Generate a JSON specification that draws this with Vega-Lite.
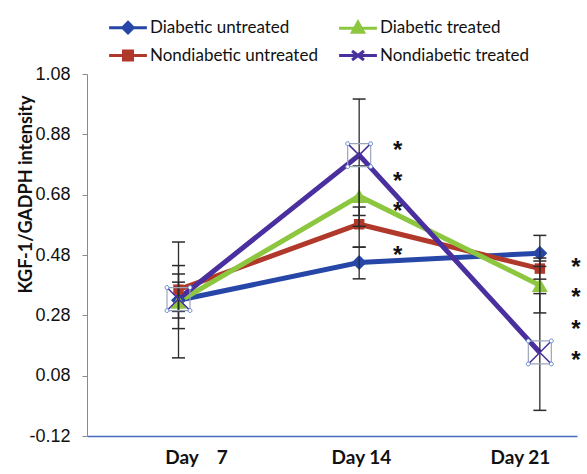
{
  "$schema": "https://vega.github.io/schema/vega-lite/v6.json",
  "width": 490,
  "height": 362,
  "autosize": "none",
  "padding": {"left": 87, "top": 74, "right": 10, "bottom": 38},
  "background": "white",
  "config": {"view": {"stroke": null}, "font": "Lato"},
  "datasets": {
    "series": [
      {"series": "Diabetic untreated", "day": 7, "value": 0.33, "lo": 0.271, "hi": 0.39},
      {"series": "Diabetic untreated", "day": 14, "value": 0.455, "lo": 0.401, "hi": 0.506},
      {"series": "Diabetic untreated", "day": 21, "value": 0.486, "lo": 0.442, "hi": 0.545},
      {"series": "Nondiabetic untreated", "day": 7, "value": 0.365, "lo": 0.293, "hi": 0.417},
      {"series": "Nondiabetic untreated", "day": 14, "value": 0.582, "lo": 0.506, "hi": 0.639},
      {"series": "Nondiabetic untreated", "day": 21, "value": 0.435, "lo": 0.4, "hi": 0.46},
      {"series": "Diabetic treated", "day": 7, "value": 0.325, "lo": 0.236, "hi": 0.445},
      {"series": "Diabetic treated", "day": 14, "value": 0.675, "lo": 0.575, "hi": 0.775},
      {"series": "Diabetic treated", "day": 21, "value": 0.38, "lo": 0.288, "hi": 0.47},
      {"series": "Nondiabetic treated", "day": 7, "value": 0.334, "lo": 0.139, "hi": 0.523},
      {"series": "Nondiabetic treated", "day": 14, "value": 0.811, "lo": 0.611, "hi": 0.997},
      {"series": "Nondiabetic treated", "day": 21, "value": 0.157, "lo": -0.035, "hi": 0.352}
    ],
    "stars": [
      {"day": 15.49, "value": 0.845},
      {"day": 15.49, "value": 0.742},
      {"day": 15.49, "value": 0.641},
      {"day": 15.49, "value": 0.497},
      {"day": 22.4, "value": 0.456},
      {"day": 22.4, "value": 0.356},
      {"day": 22.4, "value": 0.252},
      {"day": 22.4, "value": 0.15}
    ]
  },
  "encoding": {
    "x": {
      "field": "day",
      "type": "quantitative",
      "scale": {"domain": [3.455, 22.44], "nice": false, "zero": false},
      "axis": {
        "title": null,
        "values": [7.68, 14.07, 20.23],
        "labelExpr": "datum.value < 10 ? 'Day\u00a0\u00a0\u00a0\u00a07' : (datum.value < 17 ? 'Day 14' : 'Day 21')",
        "ticks": false,
        "tickSize": 0,
        "grid": false,
        "domainColor": "#4a6cc0",
        "domainWidth": 1.5,
        "labelFont": "Lato",
        "labelFontSize": 19,
        "labelFontWeight": "bold",
        "labelColor": "#111111",
        "labelPadding": 12,
        "labelFlush": false
      }
    },
    "y": {
      "field": "value",
      "type": "quantitative",
      "scale": {"domain": [-0.12, 1.08], "nice": false, "zero": false},
      "axis": {
        "title": "KGF-1/GADPH intensity",
        "values": [-0.12, 0.08, 0.28, 0.48, 0.68, 0.88, 1.08],
        "labelExpr": "replace(format(datum.value, '.2f'), '\u2212', '-')",
        "grid": false,
        "domainColor": "#8a8a8a",
        "tickColor": "#8a8a8a",
        "tickSize": 5,
        "labelFont": "Liberation Sans",
        "labelFontSize": 18,
        "labelColor": "#111111",
        "labelPadding": 12,
        "titleFont": "Lato",
        "titleFontSize": 18,
        "titleFontWeight": "bold",
        "titleColor": "#111111",
        "titleX": -52,
        "titleY": 120,
        "titleAngle": -90,
        "titleAlign": "center",
        "titleBaseline": "bottom"
      }
    }
  },
  "layer": [
    {
      "data": {"name": "series"},
      "mark": {"type": "line", "strokeWidth": 5},
      "encoding": {
        "color": {
          "field": "series",
          "type": "nominal",
          "scale": {
            "domain": ["Diabetic untreated", "Diabetic treated", "Nondiabetic untreated", "Nondiabetic treated"],
            "range": ["#2646a8", "#8dc63f", "#b0392b", "#4a2f9e"]
          },
          "legend": {
            "title": null,
            "orient": "none",
            "direction": "horizontal",
            "legendX": 13,
            "legendY": -55,
            "columns": 2,
            "columnPadding": 12,
            "rowPadding": 5,
            "symbolSize": 196,
            "symbolStrokeWidth": 3,
            "symbolOffset": 19.5,
            "labelOffset": 13.5,
            "labelFont": "Lato",
            "labelFontSize": 17,
            "labelColor": "#111111",
            "labelLimit": 0,
            "padding": 0,
            "encode": {
              "symbols": {
                "update": {
                  "shape": {"signal": "datum.value === 'Diabetic untreated' ? 'M-2.7,0L2.7,0M0,-0.75L0.75,0L0,0.75L-0.75,0Z' : (datum.value === 'Diabetic treated' ? 'M-2.7,0L2.7,0M0,-0.85L0.8,0.6L-0.8,0.6Z' : (datum.value === 'Nondiabetic untreated' ? 'M-2.7,0L2.7,0M-0.65,-0.65L0.65,-0.65L0.65,0.65L-0.65,0.65Z' : 'M-2.7,0L2.7,0M-0.85,-0.65L0.85,0.65M-0.85,0.65L0.85,-0.65'))"},
                  "fill": {"scale": "color", "field": "value"},
                  "stroke": {"scale": "color", "field": "value"},
                  "strokeWidth": {"value": 3},
                  "opacity": {"value": 1}
                }
              }
            }
          }
        }
      }
    },
    {
      "data": {"name": "series"},
      "transform": [{"filter": "datum.series !== 'Nondiabetic treated'"}],
      "mark": {"type": "point", "filled": true, "opacity": 1},
      "encoding": {
        "color": {"field": "series", "type": "nominal", "legend": null},
        "shape": {
          "field": "series",
          "type": "nominal",
          "scale": {"domain": ["Diabetic untreated", "Diabetic treated", "Nondiabetic untreated"], "range": ["diamond", "triangle-up", "square"]},
          "legend": null
        },
        "size": {
          "field": "series",
          "type": "nominal",
          "scale": {"type": "ordinal", "domain": ["Diabetic untreated", "Diabetic treated", "Nondiabetic untreated"], "range": [225, 256, 110]},
          "legend": null
        }
      }
    },
    {
      "data": {"name": "series"},
      "mark": {"type": "rule", "color": "#2b2b2b", "strokeWidth": 1.3},
      "encoding": {
        "y": {"field": "lo", "type": "quantitative"},
        "y2": {"field": "hi"}
      }
    },
    {
      "data": {"name": "series"},
      "transform": [{"fold": ["lo", "hi"], "as": ["cap", "capv"]}],
      "mark": {"type": "tick", "orient": "horizontal", "color": "#2b2b2b", "thickness": 1.5, "size": 13, "opacity": 1},
      "encoding": {
        "y": {"field": "capv", "type": "quantitative"}
      }
    },
    {
      "data": {"name": "series"},
      "transform": [{"filter": "datum.series === 'Nondiabetic treated'"}],
      "mark": {"type": "point", "shape": "square", "filled": false, "size": 529, "color": "#9aa6ba", "strokeWidth": 1.2, "opacity": 1}
    },
    {
      "data": {"name": "series"},
      "transform": [{"filter": "datum.series === 'Nondiabetic treated'"}],
      "mark": {"type": "point", "shape": "M-1,-1L1,1M-1,1L1,-1", "filled": false, "size": 529, "color": "#4a2f9e", "strokeWidth": 1.5, "opacity": 1}
    },
    {
      "data": {"name": "series"},
      "transform": [{"filter": "datum.series === 'Nondiabetic treated'"}],
      "mark": {
        "type": "point",
        "shape": "M1.17,-1A0.17,0.17 0 1,1 0.83,-1A0.17,0.17 0 1,1 1.17,-1ZM-0.83,-1A0.17,0.17 0 1,1 -1.17,-1A0.17,0.17 0 1,1 -0.83,-1ZM1.17,1A0.17,0.17 0 1,1 0.83,1A0.17,0.17 0 1,1 1.17,1ZM-0.83,1A0.17,0.17 0 1,1 -1.17,1A0.17,0.17 0 1,1 -0.83,1Z",
        "filled": true,
        "fill": "white",
        "stroke": "#5a86d0",
        "strokeWidth": 1,
        "size": 529,
        "opacity": 1
      }
    },
    {
      "data": {"name": "stars"},
      "mark": {"type": "text", "text": "*", "baseline": "alphabetic", "dy": 13, "font": "Liberation Sans", "fontWeight": "bold", "fontSize": 24, "color": "#111111"}
    }
  ]
}
